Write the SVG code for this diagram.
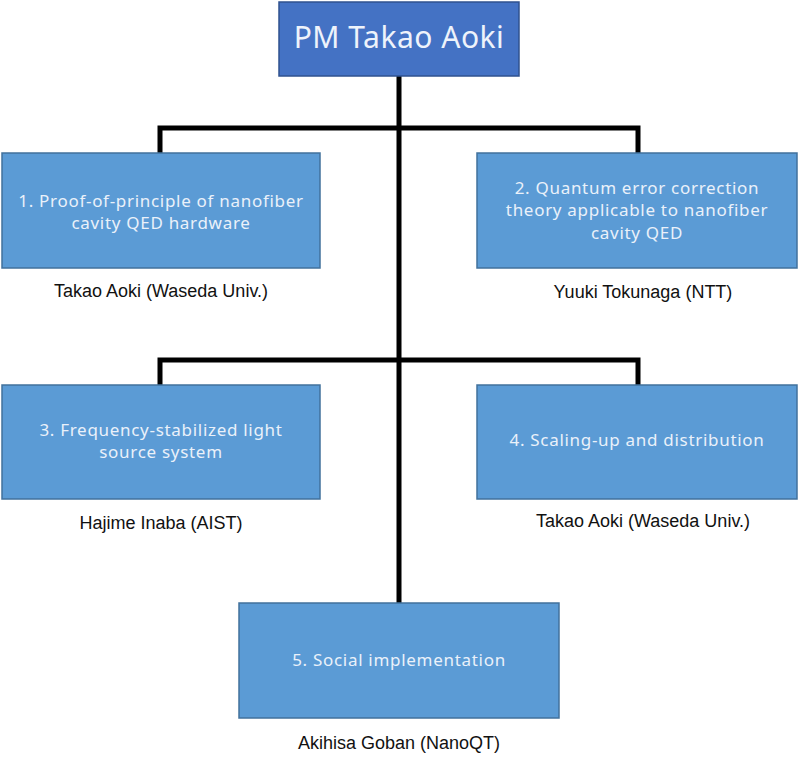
<svg xmlns="http://www.w3.org/2000/svg" width="800" height="766" viewBox="0 0 800 766">
<style>
.conn{fill:none;stroke:#000;stroke-width:5;stroke-linejoin:miter}
.box{fill:#5B9BD5;stroke:#41719C;stroke-width:1.5}
.top{fill:#4472C4;stroke:#2F528F;stroke-width:1.5}
.bt{font-family:"Noto Sans","Open Sans",sans-serif;font-size:17px;letter-spacing:0.7px;fill:#EAF1FA;text-anchor:middle}
.tt{font-family:"Noto Sans","Open Sans",sans-serif;font-size:30px;letter-spacing:0.5px;fill:#EEF3FB;text-anchor:middle}
.nm{font-family:"Liberation Sans",Arial,sans-serif;font-size:18px;fill:#111;text-anchor:middle}
</style>
<rect width="800" height="766" fill="#fff"/>
<g id="connectors">
<path class="conn" d="M399 76 V603"/>
<path class="conn" d="M160 153 V128 H638 V153"/>
<path class="conn" d="M160 385 V360 H638 V385"/>
</g>
<g id="pm">
<rect class="top" x="279" y="2" width="240" height="74"/>
<text class="tt" x="399" y="48">PM Takao Aoki</text>
</g>
<g id="n1">
<rect class="box" x="2" y="153" width="318" height="115"/>
<text class="bt" x="161" y="207">1. Proof-of-principle of nanofiber</text>
<text class="bt" x="161" y="229">cavity QED hardware</text>
<text class="nm" x="161" y="297">Takao Aoki (Waseda Univ.)</text>
</g>
<g id="n2">
<rect class="box" x="477" y="153" width="320" height="115"/>
<text class="bt" x="637" y="194">2. Quantum error correction</text>
<text class="bt" x="637" y="216">theory applicable to nanofiber</text>
<text class="bt" x="637" y="239">cavity QED</text>
<text class="nm" x="643" y="298">Yuuki Tokunaga (NTT)</text>
</g>
<g id="n3">
<rect class="box" x="2" y="385" width="318" height="114"/>
<text class="bt" x="161" y="436">3. Frequency-stabilized light</text>
<text class="bt" x="161" y="458">source system</text>
<text class="nm" x="161" y="529">Hajime Inaba (AIST)</text>
</g>
<g id="n4">
<rect class="box" x="477" y="385" width="320" height="114"/>
<text class="bt" x="637" y="446">4. Scaling-up and distribution</text>
<text class="nm" x="643" y="527">Takao Aoki (Waseda Univ.)</text>
</g>
<g id="n5">
<rect class="box" x="239" y="603" width="320" height="115"/>
<text class="bt" x="399" y="666">5. Social implementation</text>
<text class="nm" x="399" y="749">Akihisa Goban (NanoQT)</text>
</g>
</svg>
